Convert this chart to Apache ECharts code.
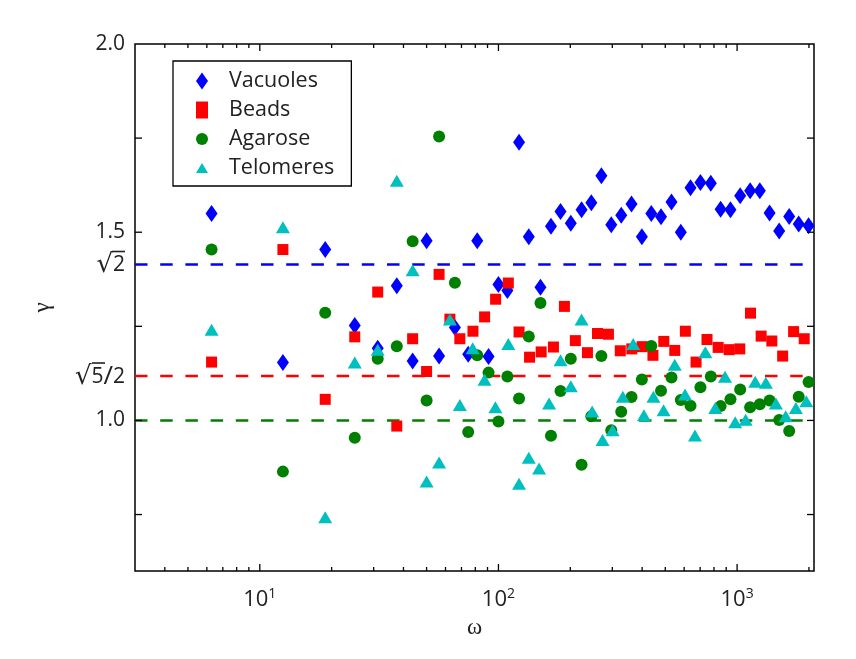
<!DOCTYPE html>
<html>
<head>
<meta charset="utf-8">
<script src="https://cdn.jsdelivr.net/npm/echarts@6/dist/echarts.min.js"></script>
<style>
html, body { margin: 0; padding: 0; background: #fff; }
#chart { width: 856px; height: 659px; }
</style>
</head>
<body>
<div id="chart"></div>
<script>
// frequencies shared by Vacuoles and Agarose
var omegaVA = [6.28, 12.5, 18.8, 25.0, 31.2, 37.5, 43.7, 50.0, 56.4, 65.7, 74.7, 81.5, 90.9, 100, 109,
    122, 134, 150, 166, 182, 201, 223, 245, 270, 297, 327, 361, 399, 437, 480, 531, 581, 638, 702,
    776, 853, 938, 1030, 1134, 1245, 1368, 1501, 1653, 1812, 1993];
var gammaVacuoles = [1.550, 1.154, 1.454, 1.252, 1.192, 1.358, 1.158, 1.477, 1.171, 1.247, 1.176, 1.477,
    1.170, 1.361, 1.345, 1.739, 1.488, 1.354, 1.516, 1.555, 1.524, 1.560, 1.578, 1.650, 1.520, 1.545,
    1.575, 1.488, 1.550, 1.541, 1.580, 1.500, 1.618, 1.632, 1.630, 1.561, 1.560, 1.597, 1.610, 1.610,
    1.551, 1.503, 1.542, 1.522, 1.517];
var gammaAgarose = [1.454, 0.864, 1.286, 0.954, 1.164, 1.197, 1.476, 1.053, 1.754, 1.366, 0.969, 1.173,
    1.127, 0.997, 1.117, 1.058, 1.223, 1.312, 0.959, 1.078, 1.164, 0.882, 1.011, 1.171, 0.974, 1.023,
    1.062, 1.109, 1.198, 1.079, 1.114, 1.054, 1.039, 1.088, 1.117, 1.038, 1.056, 1.082, 1.035, 1.043,
    1.053, 1.001, 0.972, 1.063, 1.102];

var omegaBeads = [6.28, 12.5, 18.8, 25.0, 31.2, 37.5, 43.7, 50.0, 56.4, 62.6, 68.9, 78.2, 87.5, 97.3,
    110, 122, 135, 151, 170, 189, 210, 236, 260, 289, 324, 362, 400, 444, 493, 548, 607, 673, 748,
    833, 926, 1026, 1138, 1261, 1398, 1552, 1725, 1911];
var gammaBeads = [1.155, 1.454, 1.056, 1.222, 1.341, 0.985, 1.217, 1.130, 1.388, 1.269, 1.217, 1.237,
    1.275, 1.322, 1.365, 1.235, 1.168, 1.182, 1.195, 1.303, 1.212, 1.180, 1.231, 1.229, 1.185, 1.190,
    1.196, 1.173, 1.210, 1.186, 1.237, 1.155, 1.215, 1.194, 1.188, 1.190, 1.285, 1.224, 1.211, 1.171,
    1.236, 1.217];

var omegaTelomeres = [6.28, 12.5, 18.8, 25.0, 31.2, 37.5, 43.7, 50.0, 56.4, 62.6, 68.9, 78.0, 87.4, 97.1,
    110, 122, 134, 148, 163, 182, 201, 223, 247, 273, 301, 332, 367, 407, 446, 492, 548, 605, 666,
    736, 810, 890, 982, 1086, 1191, 1320, 1454, 1598, 1763, 1950];
var gammaTelomeres = [1.241, 1.513, 0.743, 1.154, 1.188, 1.637, 1.399, 0.838, 0.888, 1.268, 1.041, 1.192,
    1.108, 1.035, 1.203, 0.832, 0.901, 0.872, 1.045, 1.160, 1.091, 1.268, 1.024, 0.948, 0.974, 1.063,
    1.203, 1.014, 1.063, 1.027, 1.148, 1.069, 0.960, 1.181, 1.033, 1.116, 0.995, 1.002, 1.103, 1.100,
    1.045, 1.011, 1.033, 1.051];

// reference lines: sqrt(2), sqrt(5)/2, 1
var refValues = [1.4142, 1.1180, 1.0];
// rich text: overline row, then radical + radicand (+ rest)
var refLabels = ['{o|}\n{r|\u221A}{d|2}', '{o|}{sp|}\n{r|\u221A}{d|5}{sl|/}{d|2}', ''];
var refColors = ['#0000ff', '#ff0000', '#008000'];

var xRange = [3, 2100];
var yRange = [0.6, 2.0];
var xMajorTicks = [10, 100, 1000];
var xMinorTicks = [4, 5, 6, 7, 8, 9, 20, 30, 40, 50, 60, 70, 80, 90, 200, 300, 400, 500, 600, 700, 800, 900, 2000];
var yMajorTicks = [0.75, 1.0, 1.25, 1.5, 1.75];
var yLabelValues = [1.0, 1.5, 2.0];

var FONT = 'Open Sans';
var TEXT = '#222';

var zip = function (xs, ys) {
    var out = [];
    for (var i = 0; i < xs.length; i++) {
        out.push([xs[i], ys[i]]);
    }
    return out;
};

// tick marks on all four sides (MATLAB box style)
var tickData = [];
xMajorTicks.forEach(function (v) { tickData.push([v, yRange[0], 7, 0]); });
xMinorTicks.forEach(function (v) { tickData.push([v, yRange[0], 4, 0]); });
yMajorTicks.forEach(function (v) { tickData.push([xRange[0], v, 7, 1]); });

var renderTick = function (params, api) {
    var cs = params.coordSys;
    var p = api.coord([api.value(0), api.value(1)]);
    var len = api.value(2);
    var style = { stroke: '#000', lineWidth: 1.3 };
    if (api.value(3) === 0) {
        return {
            type: 'group',
            children: [
                { type: 'line', shape: { x1: p[0], y1: cs.y + cs.height, x2: p[0], y2: cs.y + cs.height - len }, style: style },
                { type: 'line', shape: { x1: p[0], y1: cs.y, x2: p[0], y2: cs.y + len }, style: style }
            ]
        };
    }
    return {
        type: 'group',
        children: [
            { type: 'line', shape: { x1: cs.x, y1: p[1], x2: cs.x + len, y2: p[1] }, style: style },
            { type: 'line', shape: { x1: cs.x + cs.width, y1: p[1], x2: cs.x + cs.width - len, y2: p[1] }, style: style }
        ]
    };
};

var radicalRich = {
    o: { width: 13, height: 1.6, lineHeight: 1.6, backgroundColor: TEXT },
    sp: { width: 20, height: 1.6, lineHeight: 1.6 },
    r: { fontFamily: 'DejaVu Sans', fontSize: 26, lineHeight: 26, color: TEXT },
    d: { fontFamily: FONT, fontSize: 21, lineHeight: 26, color: TEXT },
    sl: { fontFamily: FONT, fontSize: 26, lineHeight: 26, color: TEXT }
};

var series = [];

refValues.forEach(function (v, i) {
    series.push({
        name: 'ref' + i,
        type: 'line',
        z: 1,
        clip: false,
        silent: true,
        symbol: 'circle',
        symbolSize: 0,
        showSymbol: true,
        lineStyle: { color: refColors[i], width: 2.5, type: [12.5, 12.7] },
        itemStyle: { color: refColors[i] },
        data: [
            {
                value: [xRange[0], v],
                label: {
                    show: refLabels[i] !== '',
                    position: 'left',
                    distance: 10,
                    formatter: refLabels[i],
                    rich: radicalRich
                }
            },
            [xRange[1], v]
        ]
    });
});

series.push({
    name: 'Vacuoles', type: 'scatter', z: 2,
    symbol: 'diamond', symbolSize: [12, 17],
    itemStyle: { color: '#0000ff', opacity: 1 },
    data: zip(omegaVA, gammaVacuoles)
});
series.push({
    name: 'Beads', type: 'scatter', z: 2,
    symbol: 'rect', symbolSize: 11,
    itemStyle: { color: '#ff0000', opacity: 1 },
    data: zip(omegaBeads, gammaBeads)
});
series.push({
    name: 'Agarose', type: 'scatter', z: 2,
    symbol: 'circle', symbolSize: 12,
    itemStyle: { color: '#008000', opacity: 1 },
    data: zip(omegaVA, gammaAgarose)
});
series.push({
    name: 'Telomeres', type: 'scatter', z: 2,
    symbol: 'triangle', symbolSize: [14, 12],
    itemStyle: { color: '#00bfbf', opacity: 1 },
    data: zip(omegaTelomeres, gammaTelomeres)
});
series.push({
    name: 'ticks', type: 'custom', z: 3, silent: true, clip: false,
    renderItem: renderTick,
    data: tickData
});

var chart = echarts.init(document.getElementById('chart'));
var option = {
    backgroundColor: '#fff',
    animation: false,
    grid: {
        left: 135, right: 42, top: 44, bottom: 88,
        show: true, borderColor: '#000', borderWidth: 1.5
    },
    legend: {
        orient: 'vertical',
        left: 173, top: 61,
        padding: [9, 17, 7, 23],
        itemGap: 7,
        itemWidth: 12, itemHeight: 17,
        borderColor: '#000', borderWidth: 1.3,
        backgroundColor: '#fff',
        textStyle: { fontFamily: FONT, fontSize: 21.5, lineHeight: 20, color: TEXT, padding: [0, 0, 0, 16] },
        data: [
            { name: 'Vacuoles', icon: 'path://M6,0L12,8.5L6,17L0,8.5Z' },
            { name: 'Beads', icon: 'rect' },
            { name: 'Agarose', icon: 'circle' },
            { name: 'Telomeres', icon: 'path://M6,0L12,10L0,10Z' }
        ]
    },
    xAxis: {
        type: 'log', logBase: 10,
        min: xRange[0], max: xRange[1],
        name: '\u03C9', nameLocation: 'middle', nameGap: 45,
        nameTextStyle: { fontFamily: 'Liberation Serif', fontSize: 23, color: TEXT },
        axisLine: { show: false },
        axisTick: { show: false },
        splitLine: { show: false },
        axisLabel: {
            margin: 16,
            showMinLabel: false, showMaxLabel: false,
            formatter: function (v) {
                var p = Math.log(v) / Math.LN10;
                if (Math.abs(p - Math.round(p)) > 1e-6) { return ''; }
                return '{b|10}{s|' + Math.round(p) + '}';
            },
            rich: {
                b: { fontFamily: FONT, fontSize: 22, lineHeight: 26, color: TEXT },
                s: { fontFamily: FONT, fontSize: 14, lineHeight: 14, verticalAlign: 'top', color: TEXT }
            }
        }
    },
    yAxis: {
        type: 'value',
        min: yRange[0], max: yRange[1], interval: 0.1,
        name: '\u03B3', nameLocation: 'middle', nameGap: 81, nameRotate: 90,
        nameTextStyle: { fontFamily: 'Liberation Serif', fontSize: 23, color: TEXT },
        axisLine: { show: false },
        axisTick: { show: false },
        splitLine: { show: false },
        axisLabel: {
            margin: 10,
            fontFamily: FONT, fontSize: 21, color: TEXT,
            formatter: function (v) {
                for (var i = 0; i < yLabelValues.length; i++) {
                    if (Math.abs(v - yLabelValues[i]) < 1e-6) { return yLabelValues[i].toFixed(1); }
                }
                return '';
            }
        }
    },
    series: series
};
chart.setOption(option);
</script>
</body>
</html>
